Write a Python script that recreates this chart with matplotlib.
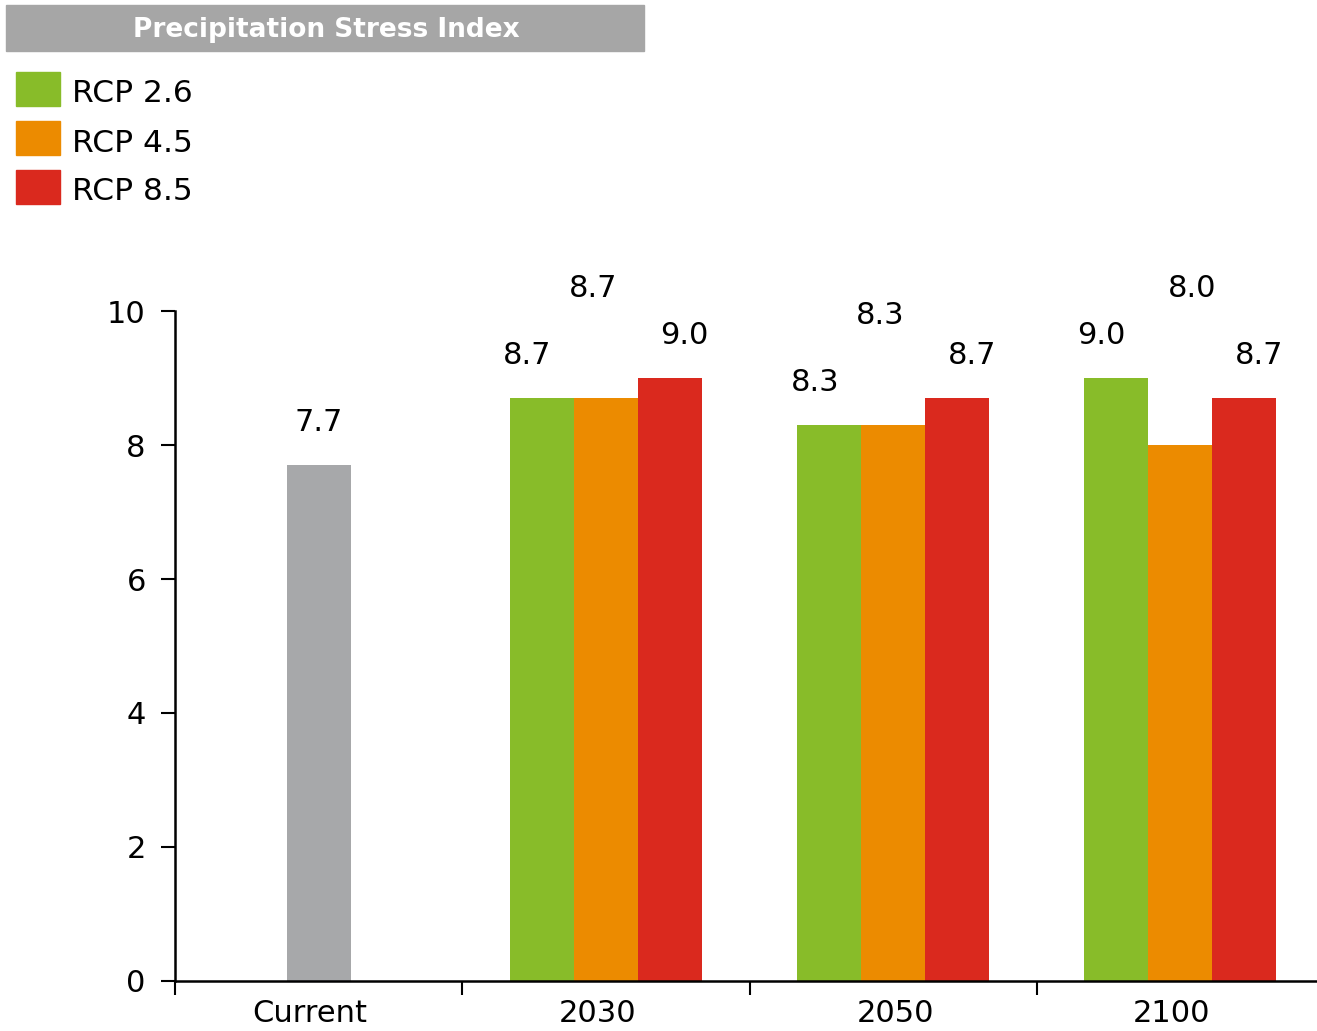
import matplotlib
matplotlib.use("Agg")
import matplotlib.pyplot as plt
from matplotlib.patches import Rectangle

# Data
periods = ["Current", "2030", "2050", "2100"]
current_value = 7.7
scenarios = ["RCP 2.6", "RCP 4.5", "RCP 8.5"]
rcp26 = [8.7, 8.3, 9.0]
rcp45 = [8.7, 8.3, 8.0]
rcp85 = [9.0, 8.7, 8.7]

colors = ["#88BC29", "#EC8B00", "#DA291E"]
grey = "#A7A8AA"

# how far each value label sits above its bar (data units) and sideways (pixels)
label_lift = [[0.64, 0.64, 0.64], [1.64, 1.64, 2.34], [0.64, 0.64, 0.64]]
label_shift = [[-15, -14, -15], [-13, -13, 12], [14, 15, 15]]

W, H = 1317, 1031
fig = plt.figure(figsize=(W / 100, H / 100), dpi=100)
ax = fig.add_axes([175 / W, 50 / H, 1149 / W, 670 / H])

bw = 0.2228
ax.bar(0, current_value, width=bw, color=grey)
ax.annotate(f"{current_value:.1f}", (0, current_value + 0.64), ha="center",
            va="center", fontsize=22, annotation_clip=False)

series = [rcp26, rcp45, rcp85]
for i, vals in enumerate(series):
    xs = [k + 1 + (i - 1) * bw for k in range(len(vals))]
    ax.bar(xs, vals, width=bw, color=colors[i])
    for k, v in enumerate(vals):
        ax.annotate(f"{v:.1f}", (xs[k], v + label_lift[i][k]),
                    xytext=(label_shift[i][k], 0), textcoords="offset pixels",
                    ha="center", va="center", fontsize=22,
                    annotation_clip=False)

ax.set_xlim(-0.5, 3.5)
ax.set_ylim(0, 10)
ax.set_yticks([0, 2, 4, 6, 8, 10])
ax.set_xticks([-0.5, 0.5, 1.5, 2.5])
ax.set_xticklabels([])
ax.set_xticks([-0.03, 0.97, 2.01, 2.97], minor=True)
ax.set_xticklabels(periods, minor=True)
ax.tick_params(axis="x", which="major", length=10, width=1.5, direction="out")
ax.tick_params(axis="x", which="minor", length=0, pad=13, labelsize=22)
ax.tick_params(axis="y", length=10, width=1.5, direction="out", pad=11,
               labelsize=22)
for s in ["top", "right"]:
    ax.spines[s].set_visible(False)
for s in ["left", "bottom"]:
    ax.spines[s].set_linewidth(1.8)

# title bar
fig.patches.append(Rectangle((6 / W, 1 - 51 / H), 638 / W, 46 / H,
                             transform=fig.transFigure, color="#A6A6A6"))
fig.text(326 / W, 1 - 30 / H, "Precipitation Stress Index", color="white",
         fontsize=19, fontweight="bold", ha="center", va="center")

# legend
for i, name in enumerate(scenarios):
    top = 72 + i * 49
    fig.patches.append(Rectangle((16 / W, 1 - (top + 34) / H), 44 / W, 34 / H,
                                 transform=fig.transFigure, color=colors[i]))
    fig.text(72 / W, 1 - (top + 22) / H, name, fontsize=22.5, va="center")

fig.savefig("out.png", dpi=100)
